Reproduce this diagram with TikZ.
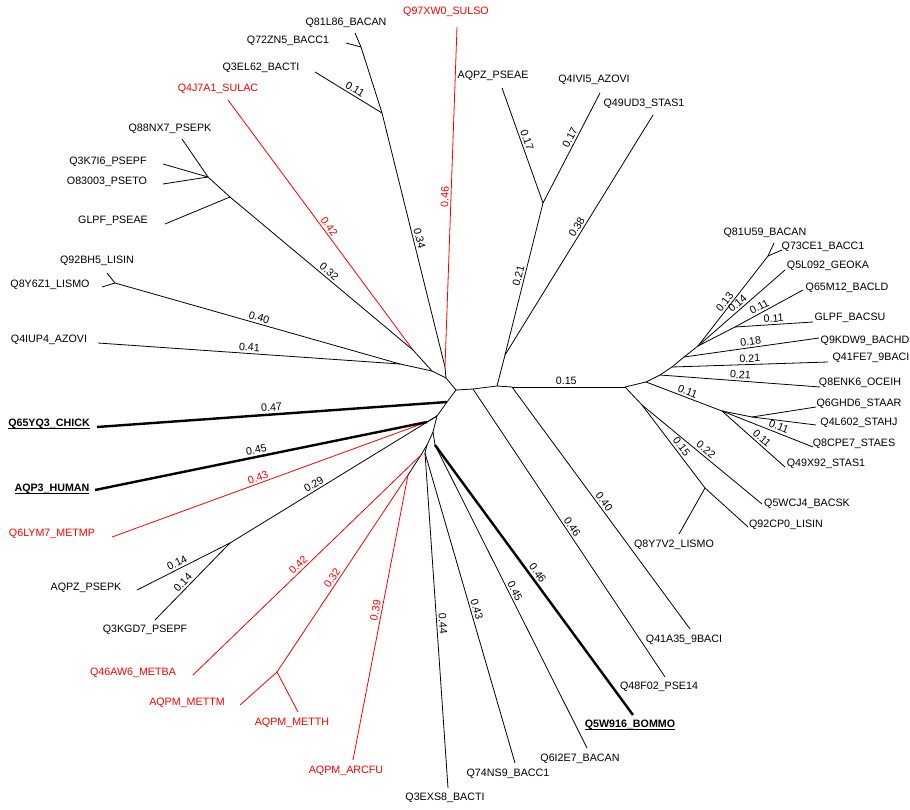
\documentclass[tikz,border=0pt]{standalone}
\usepackage{fontspec}
\setmainfont{Liberation Sans}
\newsavebox\ulbox
\newcommand\boldul[1]{\sbox\ulbox{\textbf{#1}}\rlap{\rule[-2pt]{\wd\ulbox}{0.9pt}}\usebox\ulbox}
\begin{document}
\begin{tikzpicture}[x=1pt,y=-1pt,
    font=\fontsize{10.7}{12}\selectfont,
    leaf/.style={inner sep=0pt},
    lbl/.style={sloped,above,inner sep=2pt,pos=.5},
    arch/.style={red},
    heavy/.style={line width=2.4pt}]
  \useasboundingbox (0,0) rectangle (910,810);
  \path
    (456,390) coordinate (o)
    (446,378) coordinate (b)
    (432,371) coordinate (a)
    (445,367) coordinate (e)
    (413,350) coordinate (c)
    (400,364) coordinate (d)
    (382,113) coordinate (q)
    (361,47) coordinate (r)
    (230,197) coordinate (s)
    (208,177) coordinate (t)
    (115,283) coordinate (v)
    (447,402) coordinate (w1)
    (437,416) coordinate (w2)
    (427,422) coordinate (x)
    (230,543) coordinate (y)
    (433,432) coordinate (z1)
    (435,445) coordinate (z2)
    (427,445) coordinate (z3)
    (421,455) coordinate (z4)
    (408,475) coordinate (z5)
    (425,453) coordinate (z6)
    (277,672) coordinate (r1)
    (473,389) coordinate (f)
    (497,386) coordinate (g)
    (505,355) coordinate (gs)
    (543,203) coordinate (az)
    (512,387) coordinate (h)
    (625,387) coordinate (i)
    (642,405) coordinate (k)
    (705,488) coordinate (l)
    (646,382) coordinate (j)
    (722,411) coordinate (m)
    (752,417) coordinate (n)
    (660,375) coordinate (p1)
    (672,367) coordinate (p2)
    (684,357) coordinate (p3)
    (698,346) coordinate (p4)
    (768,256) coordinate (p5)
    (735,327) coordinate (p6);
  \path
    (355,33) coordinate (tQ81L86)
    (346,43) coordinate (tQ72ZN5)
    (315,72) coordinate (tQ3EL62)
    (457,27) coordinate (tQ97XW0)
    (228,100) coordinate (tQ4J7A1)
    (182,139) coordinate (tQ88NX7)
    (163,164) coordinate (tQ3K7I6)
    (163,184) coordinate (tO83003)
    (165,224) coordinate (tGLPFPSEAE)
    (107,273) coordinate (tQ92BH5)
    (102,287) coordinate (tQ8Y6Z1)
    (98,343) coordinate (tQ4IUP4)
    (97,427) coordinate (tQ65YQ3)
    (95,490) coordinate (tAQP3)
    (112,537) coordinate (tQ6LYM7)
    (137,590) coordinate (tAQPZPSEPK)
    (155,620) coordinate (tQ3KGD7)
    (193,675) coordinate (tQ46AW6)
    (240,705) coordinate (tMETTM)
    (298,712) coordinate (tMETTH)
    (353,760) coordinate (tARCFU)
    (448,788) coordinate (tQ3EXS8)
    (515,763) coordinate (tQ74NS9)
    (587,748) coordinate (tQ6I2E7)
    (633,715) coordinate (tQ5W916)
    (665,677) coordinate (tQ48F02)
    (690,629) coordinate (tQ41A35)
    (679,534) coordinate (tQ8Y7V2)
    (748,527) coordinate (tQ92CP0)
    (762,504) coordinate (tQ5WCJ4)
    (785,467) coordinate (tQ49X92)
    (813,447) coordinate (tQ8CPE7)
    (816,425) coordinate (tQ4L602)
    (816,407) coordinate (tQ6GHD6)
    (820,387) coordinate (tQ8ENK6)
    (828,362) coordinate (tQ41FE7)
    (819,338) coordinate (tQ9KDW9)
    (813,322) coordinate (tGLPFBACSU)
    (803,290) coordinate (tQ65M12)
    (785,270) coordinate (tQ5L092)
    (774,243) coordinate (tQ81U59)
    (782,250) coordinate (tQ73CE1)
    (653,115) coordinate (tQ49UD3)
    (502,88) coordinate (tAQPZPSEAE)
    (600,93) coordinate (tQ4IVI5);
  \path
    (346,23) node[leaf] (Q81L86) {Q81L86\_BACAN}
    (288,41) node[leaf] (Q72ZN5) {Q72ZN5\_BACC1}
    (261,68) node[leaf] (Q3EL62) {Q3EL62\_BACTI}
    (218,89) node[leaf,arch] (Q4J7A1) {Q4J7A1\_SULAC}
    (170,129) node[leaf] (Q88NX7) {Q88NX7\_PSEPK}
    (108,162) node[leaf] (Q3K7I6) {Q3K7I6\_PSEPF}
    (107,182) node[leaf] (O83003) {O83003\_PSETO}
    (113,221) node[leaf] (GLPFPSEAE) {GLPF\_PSEAE}
    (97,261) node[leaf] (Q92BH5) {Q92BH5\_LISIN}
    (50,285) node[leaf] (Q8Y6Z1) {Q8Y6Z1\_LISMO}
    (49,340) node[leaf] (Q4IUP4) {Q4IUP4\_AZOVI}
    (446,12) node[leaf,arch] (Q97XW0) {Q97XW0\_SULSO}
    (493,76) node[leaf] (AQPZPSEAE) {AQPZ\_PSEAE}
    (594,80) node[leaf] (Q4IVI5) {Q4IVI5\_AZOVI}
    (644,104) node[leaf] (Q49UD3) {Q49UD3\_STAS1}
    (765,233) node[leaf] (Q81U59) {Q81U59\_BACAN}
    (823,247) node[leaf] (Q73CE1) {Q73CE1\_BACC1}
    (828,266) node[leaf] (Q5L092) {Q5L092\_GEOKA}
    (847,288) node[leaf] (Q65M12) {Q65M12\_BACLD}
    (850,318) node[leaf] (GLPFBACSU) {GLPF\_BACSU}
    (865,341) node[leaf] (Q9KDW9) {Q9KDW9\_BACHD}
    (871,358) node[leaf] (Q41FE7) {Q41FE7\_9BACI}
    (860,383) node[leaf] (Q8ENK6) {Q8ENK6\_OCEIH}
    (859,404) node[leaf] (Q6GHD6) {Q6GHD6\_STAAR}
    (859,423) node[leaf] (Q4L602) {Q4L602\_STAHJ}
    (854,444) node[leaf] (Q8CPE7) {Q8CPE7\_STAES}
    (826,464) node[leaf] (Q49X92) {Q49X92\_STAS1}
    (807,504) node[leaf] (Q5WCJ4) {Q5WCJ4\_BACSK}
    (786,525) node[leaf] (Q92CP0) {Q92CP0\_LISIN}
    (674,545) node[leaf] (Q8Y7V2) {Q8Y7V2\_LISMO}
    (684,640) node[leaf] (Q41A35) {Q41A35\_9BACI}
    (659,687) node[leaf] (Q48F02) {Q48F02\_PSE14}
    (630,725) node[leaf] (Q5W916) {\boldul{Q5W916\_BOMMO}}
    (580,759) node[leaf] (Q6I2E7) {Q6I2E7\_BACAN}
    (508,774) node[leaf] (Q74NS9) {Q74NS9\_BACC1}
    (445,798) node[leaf] (Q3EXS8) {Q3EXS8\_BACTI}
    (346,771) node[leaf,arch] (ARCFU) {AQPM\_ARCFU}
    (292,723) node[leaf,arch] (METTH) {AQPM\_METTH}
    (187,703) node[leaf,arch] (METTM) {AQPM\_METTM}
    (133,673) node[leaf,arch] (Q46AW6) {Q46AW6\_METBA}
    (145,630) node[leaf] (Q3KGD7) {Q3KGD7\_PSEPF}
    (86,588) node[leaf] (AQPZPSEPK) {AQPZ\_PSEPK}
    (52,534) node[leaf,arch] (Q6LYM7) {Q6LYM7\_METMP}
    (52,489) node[leaf] (AQP3) {\boldul{AQP3\_HUMAN}}
    (49,424) node[leaf] (Q65YQ3) {\boldul{Q65YQ3\_CHICK}};
  \begin{scope}[line width=0.8pt]
    \draw (o) to (b);
    \draw (b) to (a);
    \draw (b) to (e);
    \draw (a) to (c);
    \draw (a) to (d);
    \draw (e) to node[lbl]{0.34} (q);
    \draw[arch] (e) to node[lbl]{0.46} (tQ97XW0);
    \draw (q) to (r);
    \draw (q) to node[lbl,pos=.45]{0.11} (tQ3EL62);
    \draw (r) to (tQ81L86);
    \draw (r) to (tQ72ZN5);
    \draw[arch] (c) to node[lbl,pos=.48]{0.42} (tQ4J7A1);
    \draw (c) to node[lbl,pos=.48]{0.32} (s);
    \draw (s) to (t);
    \draw (s) to (tGLPFPSEAE);
    \draw (t) to (tQ88NX7);
    \draw (t) to (tQ3K7I6);
    \draw (t) to (tO83003);
    \draw (d) to node[lbl]{0.40} (v);
    \draw (d) to node[lbl]{0.41} (tQ4IUP4);
    \draw (v) to (tQ92BH5);
    \draw (v) to (tQ8Y6Z1);
    \draw (o) to (w1);
    \draw[heavy] (w1) to node[lbl]{0.47} (tQ65YQ3);
    \draw (w1) to (w2);
    \draw (w2) to (x);
    \draw[arch] (x) to node[lbl,pos=.53]{0.43} (tQ6LYM7);
    \draw[heavy] (x) to node[lbl,pos=.51]{0.45} (tAQP3);
    \draw (w2) to node[lbl,pos=.58]{0.29} (y);
    \draw (y) to node[lbl,pos=.54]{0.14} (tAQPZPSEPK);
    \draw (y) to node[lbl,pos=.57]{0.14} (tQ3KGD7);
    \draw (w2) to (z1);
    \draw (z1) to (z2);
    \draw (z1) to (z3);
    \draw[heavy] (z2) to node[lbl,pos=.49]{0.46} (tQ5W916);
    \draw (z2) to node[lbl,pos=.49]{0.45} (tQ6I2E7);
    \draw (z3) to (z4);
    \draw (z4) to (z5);
    \draw[arch] (z4) to node[lbl,pos=.52]{0.42} (tQ46AW6);
    \draw[arch] (z5) to node[lbl,pos=.54]{0.32} (r1);
    \draw[arch] (z5) to node[lbl,pos=.48]{0.39} (tARCFU);
    \draw[arch] (r1) to (tMETTM);
    \draw[arch] (r1) to (tMETTH);
    \draw (z3) to (z6);
    \draw (z6) to node[lbl,pos=.51]{0.44} (tQ3EXS8);
    \draw (z6) to node[lbl,pos=.51]{0.43} (tQ74NS9);
    \draw (o) to (f);
    \draw (f) to node[lbl,pos=.49]{0.46} (tQ48F02);
    \draw (f) to (g);
    \draw (g) to (gs);
    \draw (gs) to node[lbl,pos=.51]{0.21} (az);
    \draw (gs) to node[lbl,pos=.52]{0.38} (tQ49UD3);
    \draw (az) to node[lbl,pos=.53]{0.17} (tAQPZPSEAE);
    \draw (az) to node[lbl,pos=.57]{0.17} (tQ4IVI5);
    \draw (g) to (h);
    \draw (h) to node[lbl,pos=.49]{0.40} (tQ41A35);
    \draw (h) to node[lbl,pos=.48]{0.15} (i);
    \draw (i) to (k);
    \draw (k) to node[lbl]{0.22} (tQ5WCJ4);
    \draw (k) to node[lbl,pos=.55]{0.15} (l);
    \draw (l) to (tQ92CP0);
    \draw (l) to (tQ8Y7V2);
    \draw (i) to (j);
    \draw (j) to node[lbl,pos=.52]{0.11} (m);
    \draw (m) to (n);
    \draw (n) to (tQ6GHD6);
    \draw (n) to (tQ4L602);
    \draw (m) to node[lbl,pos=.6]{0.11} (tQ8CPE7);
    \draw (m) to node[lbl,pos=.57]{0.11} (tQ49X92);
    \draw (j) to (p1);
    \draw (p1) to node[lbl]{0.21} (tQ8ENK6);
    \draw (p1) to (p2);
    \draw (p2) to node[lbl]{0.21} (tQ41FE7);
    \draw (p2) to (p3);
    \draw (p3) to node[lbl]{0.18} (tQ9KDW9);
    \draw (p3) to (p4);
    \draw (p4) to node[lbl,pos=.45]{0.13} (p5);
    \draw (p4) to node[lbl,pos=.5]{0.14} (tQ5L092);
    \draw (p4) to (p6);
    \draw (p6) to node[lbl,pos=.4]{0.11} (tQ65M12);
    \draw (p6) to node[lbl,pos=.5]{0.11} (tGLPFBACSU);
    \draw (p5) to (tQ81U59);
    \draw (p5) to (tQ73CE1);
  \end{scope}
\end{tikzpicture}
\end{document}
